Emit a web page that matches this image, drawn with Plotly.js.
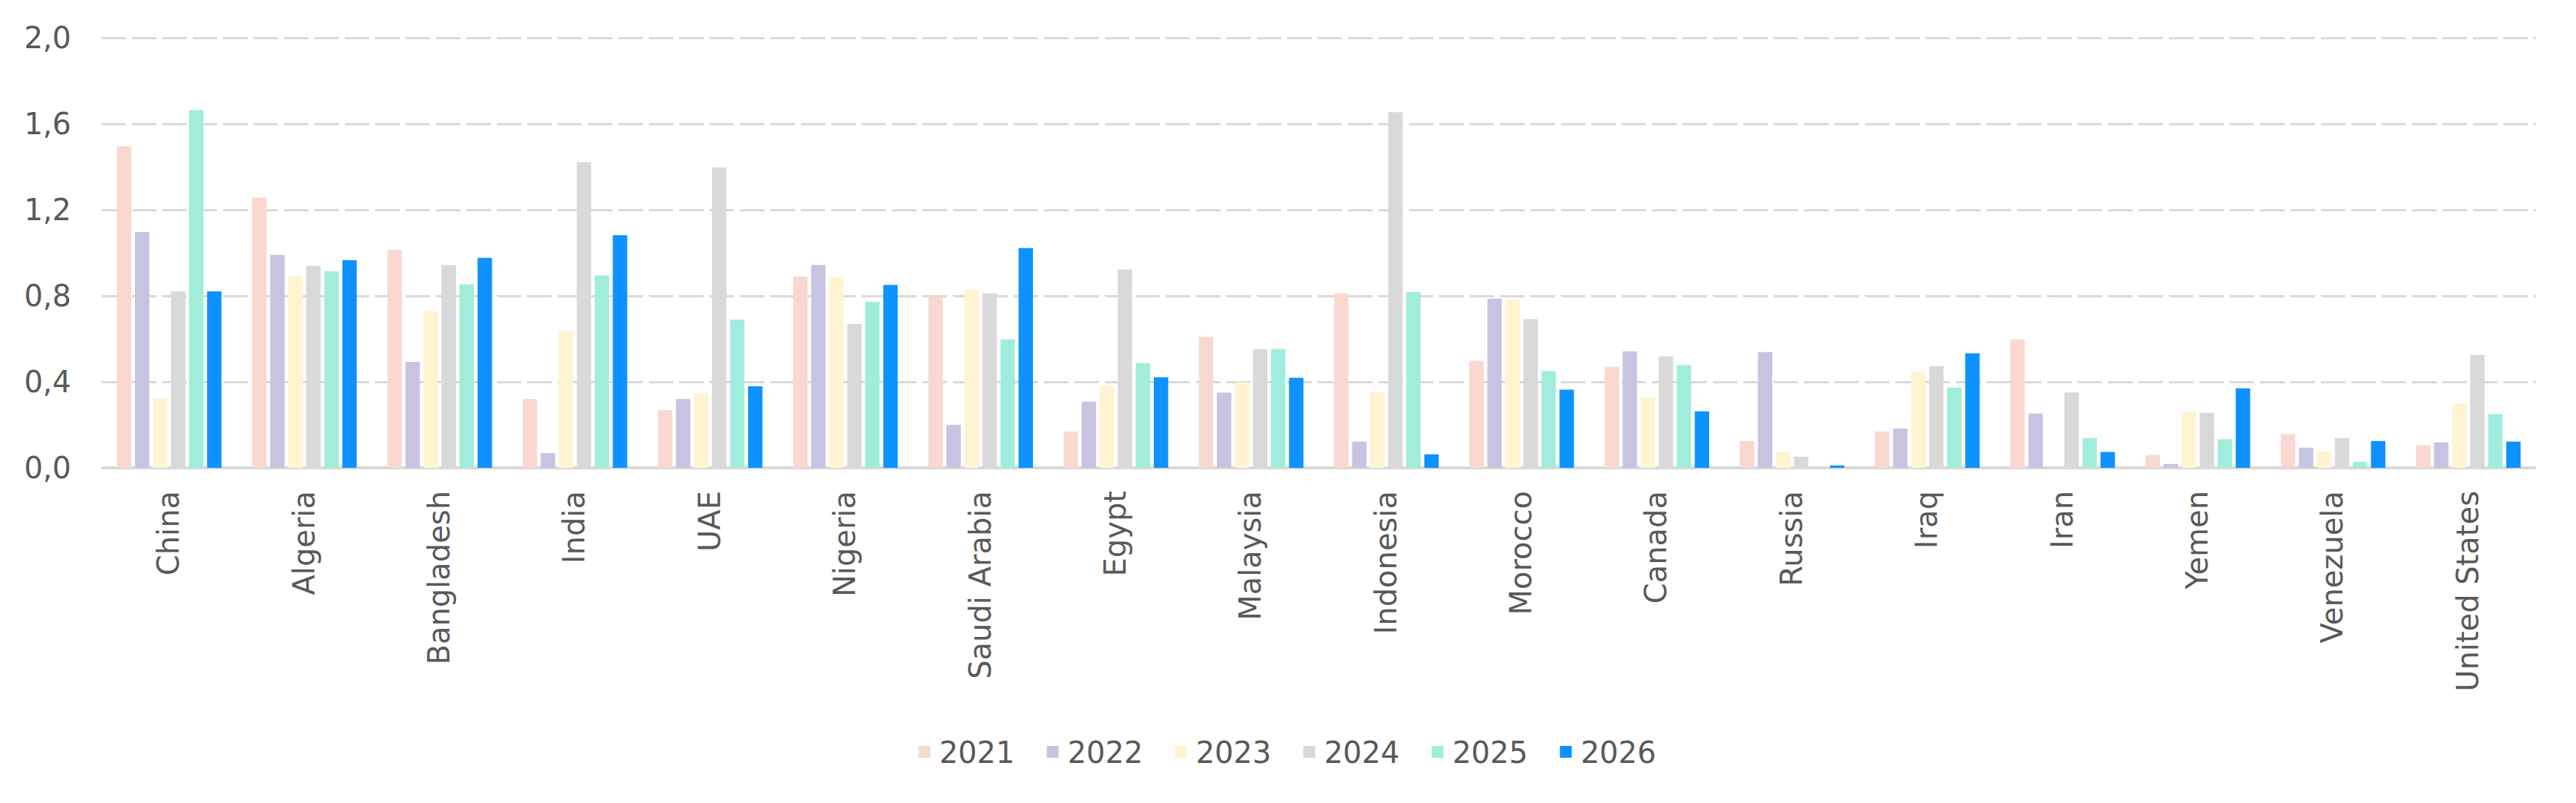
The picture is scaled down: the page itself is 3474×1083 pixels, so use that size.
<!DOCTYPE html>
<html>
<head>
<meta charset="utf-8">
<script src="https://cdn.plot.ly/plotly-3.0.1.min.js"></script>
<style>
  html, body { margin: 0; padding: 0; background: #ffffff; }
  #chart { width: 3474px; height: 1083px; }
</style>
</head>
<body>
<div id="chart"></div>
<script>
const countries = ["China", "Algeria", "Bangladesh", "India", "UAE", "Nigeria", "Saudi Arabia", "Egypt", "Malaysia", "Indonesia", "Morocco", "Canada", "Russia", "Iraq", "Iran", "Yemen", "Venezuela", "United States"];
const years = ["2021", "2022", "2023", "2024", "2025", "2026"];

const v2021 = [1.495, 1.257, 1.014, 0.320, 0.268, 0.891, 0.798, 0.169, 0.609, 0.812, 0.498, 0.470, 0.125, 0.169, 0.598, 0.060, 0.156, 0.105];
const v2022 = [1.097, 0.991, 0.493, 0.069, 0.320, 0.943, 0.200, 0.308, 0.350, 0.122, 0.787, 0.542, 0.539, 0.183, 0.253, 0.018, 0.094, 0.119];
const v2023 = [0.324, 0.891, 0.729, 0.636, 0.348, 0.888, 0.829, 0.381, 0.398, 0.354, 0.784, 0.328, 0.074, 0.447, 0.000, 0.260, 0.077, 0.300];
const v2024 = [0.821, 0.940, 0.943, 1.422, 1.398, 0.670, 0.812, 0.923, 0.553, 1.655, 0.692, 0.519, 0.052, 0.473, 0.351, 0.256, 0.139, 0.525];
const v2025 = [1.664, 0.915, 0.854, 0.895, 0.690, 0.773, 0.598, 0.487, 0.553, 0.818, 0.450, 0.478, 0.000, 0.373, 0.139, 0.133, 0.028, 0.250];
const v2026 = [0.821, 0.966, 0.977, 1.082, 0.379, 0.851, 1.023, 0.422, 0.419, 0.063, 0.364, 0.263, 0.011, 0.533, 0.074, 0.370, 0.125, 0.122];

const seriesValues = [v2021, v2022, v2023, v2024, v2025, v2026];
const colors = ["#F9D8D0", "#C9C3E2", "#FFF4D1", "#D9D9D9", "#A1EDDC", "#0D92FF"];

const FONT = "DejaVu Sans, Noto Sans, sans-serif";
const TEXT = "#595959";

const barTraces = years.map((y, i) => ({
  type: "bar",
  name: y,
  legendgroup: y,
  showlegend: false,
  x: countries,
  y: seriesValues[i],
  marker: { color: colors[i], line: { width: 0 } },
  hoverinfo: "x+y+name"
}));

// legend entries (square swatches) linked to the bar series
const legendTraces = years.map((y, i) => ({
  type: "scatter",
  mode: "markers",
  name: y,
  legendgroup: y,
  showlegend: true,
  x: [null],
  y: [null],
  marker: { color: colors[i], symbol: "square", size: 25 },
  hoverinfo: "skip"
}));

const layout = {
  width: 3474,
  height: 1083,
  paper_bgcolor: "#ffffff",
  plot_bgcolor: "#ffffff",
  margin: { l: 137, r: 54, t: 50, b: 452 },
  separators: ",.",
  barmode: "group",
  bargap: 0.2,
  bargroupgap: 0.2,
  font: { family: FONT, size: 40, color: TEXT },
  showlegend: true,
  legend: {
    orientation: "h",
    x: 0.49,
    xanchor: "center",
    y: -0.659,
    yanchor: "middle",
    font: { family: FONT, size: 40, color: TEXT },
    itemwidth: 30,
    itemsizing: "trace",
    entrywidth: 128,
    entrywidthmode: "pixels",
    traceorder: "normal"
  },
  xaxis: {
    type: "category",
    tickangle: -90,
    showgrid: false,
    showline: false,
    zeroline: false,
    ticks: "",
    ticklabelstandoff: 22,
    tickfont: { family: FONT, size: 40, color: TEXT }
  },
  yaxis: {
    range: [0, 2.004],
    dtick: 0.4,
    tick0: 0,
    tickformat: ".1f",
    showgrid: true,
    gridcolor: "#D9D9D9",
    gridwidth: 3,
    griddash: "33px,8px",
    zeroline: true,
    zerolinecolor: "#D9D9D9",
    zerolinewidth: 4,
    showline: false,
    ticks: "",
    ticklabelstandoff: 40,
    tickfont: { family: FONT, size: 40, color: TEXT }
  }
};

Plotly.newPlot("chart", barTraces.concat(legendTraces), layout, { displayModeBar: false, staticPlot: true });
</script>
</body>
</html>
